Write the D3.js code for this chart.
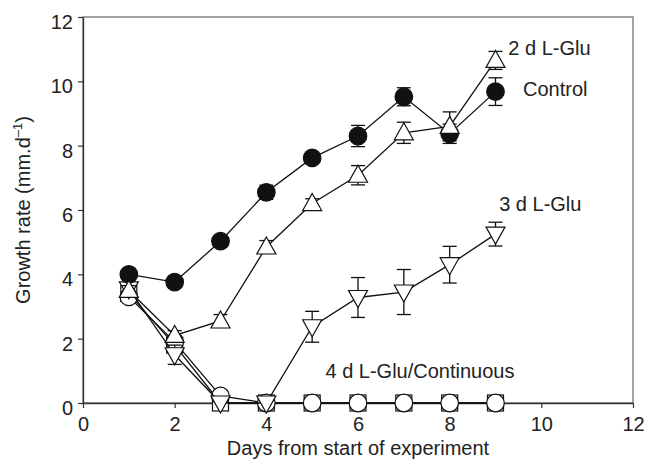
<!DOCTYPE html>
<html>
<head>
<meta charset="utf-8">
<script src="https://cdn.jsdelivr.net/npm/d3@7"></script>
<style>
  body { margin: 0; background: #fff; }
  text { font-family: "Liberation Sans", Arial, Helvetica, sans-serif; fill: #222; }
</style>
</head>
<body>
<svg id="chart" width="645" height="461"></svg>
<script>
// days of the experiment
var days = [1, 2, 3, 4, 5, 6, 7, 8, 9];

// growth rates (mm/d)
var control    = [4.0, 3.76, 5.03, 6.55, 7.62, 8.3, 9.52, 8.37, 9.68];
var controlErr = [0.1, 0.1, 0.1, 0.22, 0.1, 0.33, 0.28, 0.3, 0.43];
var glu2       = [3.5, 2.1, 2.55, 4.85, 6.2, 7.08, 8.4, 8.6, 10.65];
var glu2Err    = [0.15, 0.15, 0.2, 0.2, 0.15, 0.3, 0.33, 0.45, 0.28];
var glu3       = [3.55, 1.5, 0, 0, 2.37, 3.28, 3.45, 4.3, 5.25];
var glu3Err    = [0.15, 0.3, 0, 0, 0.48, 0.62, 0.7, 0.57, 0.37];
var glu4       = [3.3, 1.9, 0.22, 0, 0, 0, 0, 0, 0];
var glu4Err    = [0.1, 0.2, 0.05, 0, 0, 0, 0, 0, 0];
var continuous = [3.4, 1.8, 0, 0, 0, 0, 0, 0, 0];
var contErr    = [0.1, 0.2, 0, 0, 0, 0, 0, 0, 0];

var xTicks = [0, 2, 4, 6, 8, 10, 12];
var yTicks = [0, 2, 4, 6, 8, 10, 12];

var margin = {left: 83, right: 12, top: 17, bottom: 58};
var svg = d3.select("#chart");
var W = +svg.attr("width"), H = +svg.attr("height");

var x = d3.scaleLinear().domain([0, 12]).range([margin.left, W - margin.right]);
var y = d3.scaleLinear().domain([0, 12]).range([H - margin.bottom, margin.top]);

// frame (top / right sides are a lighter grey)
svg.append("rect")
  .attr("x", x(0)).attr("y", y(12))
  .attr("width", x(12) - x(0)).attr("height", y(0) - y(12))
  .attr("fill", "none").attr("stroke", "#666").attr("stroke-width", 1.2);

var xAxis = svg.append("g")
  .attr("transform", "translate(0," + y(0) + ")")
  .call(d3.axisBottom(x).tickValues(xTicks).tickSizeInner(5).tickSizeOuter(0).tickPadding(9));
var yAxis = svg.append("g")
  .attr("transform", "translate(" + x(0) + ",0)")
  .call(d3.axisLeft(y).tickValues(yTicks).tickSizeInner(5).tickSizeOuter(0).tickPadding(5));

[xAxis, yAxis].forEach(function(a) {
  a.selectAll("path").attr("stroke", "#333").attr("stroke-width", 1.3);
  a.selectAll("line").attr("stroke", "#333").attr("stroke-width", 1.2);
  a.selectAll("text").style("font-size", "20px")
    .style("font-family", '"Liberation Sans", Arial, sans-serif').attr("fill", "#222");
});
// y tick labels sit a little below their ticks in the original
yAxis.selectAll("text").attr("y", 5);

svg.append("text")
  .attr("x", (x(0) + x(12)) / 2).attr("y", 455)
  .attr("text-anchor", "middle").style("font-size", "20px")
  .text("Days from start of experiment");

var yl = svg.append("text")
  .attr("transform", "translate(30," + ((y(0) + y(12)) / 2) + ") rotate(-90)")
  .attr("text-anchor", "middle").style("font-size", "20px");
yl.append("tspan").text("Growth rate (mm.d");
yl.append("tspan").attr("dy", -8).style("font-size", "13px").text("–1");
yl.append("tspan").attr("dy", 8).text(")");

var series = [
  {vals: continuous, err: contErr, shape: "square", fill: "#fff"},
  {vals: glu4, err: glu4Err, shape: "circle", fill: "#fff"},
  {vals: glu3, err: glu3Err, shape: "down", fill: "#fff"},
  {vals: control, err: controlErr, shape: "circle", fill: "#111"},
  {vals: glu2, err: glu2Err, shape: "up", fill: "#fff"}
];

var line = d3.line().x(function(d) { return x(d[0]); }).y(function(d) { return y(d[1]); });

function marker(g, shape, fill) {
  if (shape === "circle") {
    g.append("circle").attr("r", 8.8).attr("fill", fill).attr("stroke", "#111").attr("stroke-width", 1.2);
  } else if (shape === "square") {
    g.append("rect").attr("x", -8).attr("y", -8).attr("width", 16).attr("height", 16)
      .attr("fill", fill).attr("stroke", "#111").attr("stroke-width", 1.2);
  } else if (shape === "up") {
    g.append("path").attr("d", "M0,-10L9.5,7L-9.5,7Z")
      .attr("fill", fill).attr("stroke", "#111").attr("stroke-width", 1.2);
  } else {
    g.append("path").attr("d", "M0,10L9.5,-7L-9.5,-7Z")
      .attr("fill", fill).attr("stroke", "#111").attr("stroke-width", 1.2);
  }
}

series.forEach(function(s) {
  var pts = days.map(function(d, i) { return [d, s.vals[i], s.err[i]]; });
  var g = svg.append("g");
  g.append("path").datum(pts).attr("d", line)
    .attr("fill", "none").attr("stroke", "#111").attr("stroke-width", 1.3);

  var eb = g.selectAll(".eb").data(pts.filter(function(p) { return p[2] > 0; }))
    .enter().append("g")
    .attr("transform", function(p) { return "translate(" + x(p[0]) + ",0)"; })
    .attr("stroke", "#111").attr("stroke-width", 1.3);
  eb.append("line").attr("y1", function(p) { return y(p[1] - p[2]); })
    .attr("y2", function(p) { return y(p[1] + p[2]); });
  eb.append("line").attr("x1", -7).attr("x2", 7)
    .attr("y1", function(p) { return y(p[1] + p[2]); }).attr("y2", function(p) { return y(p[1] + p[2]); });
  eb.append("line").attr("x1", -7).attr("x2", 7)
    .attr("y1", function(p) { return y(p[1] - p[2]); }).attr("y2", function(p) { return y(p[1] - p[2]); });

  g.selectAll(".m").data(pts).enter().append("g")
    .attr("transform", function(p) { return "translate(" + x(p[0]) + "," + y(p[1]) + ")"; })
    .each(function() { marker(d3.select(this), s.shape, s.fill); });
});

// series labels
var labels = [
  {t: "2 d L-Glu", x: 9.28, y: 10.82},
  {t: "Control", x: 9.6, y: 9.53},
  {t: "3 d L-Glu", x: 9.08, y: 5.96},
  {t: "4 d L-Glu/Continuous", x: 5.29, y: 0.77}
];
svg.selectAll(".lab").data(labels).enter().append("text")
  .attr("x", function(d) { return x(d.x); }).attr("y", function(d) { return y(d.y); })
  .style("font-size", "20px")
  .text(function(d) { return d.t; });
</script>
</body>
</html>
